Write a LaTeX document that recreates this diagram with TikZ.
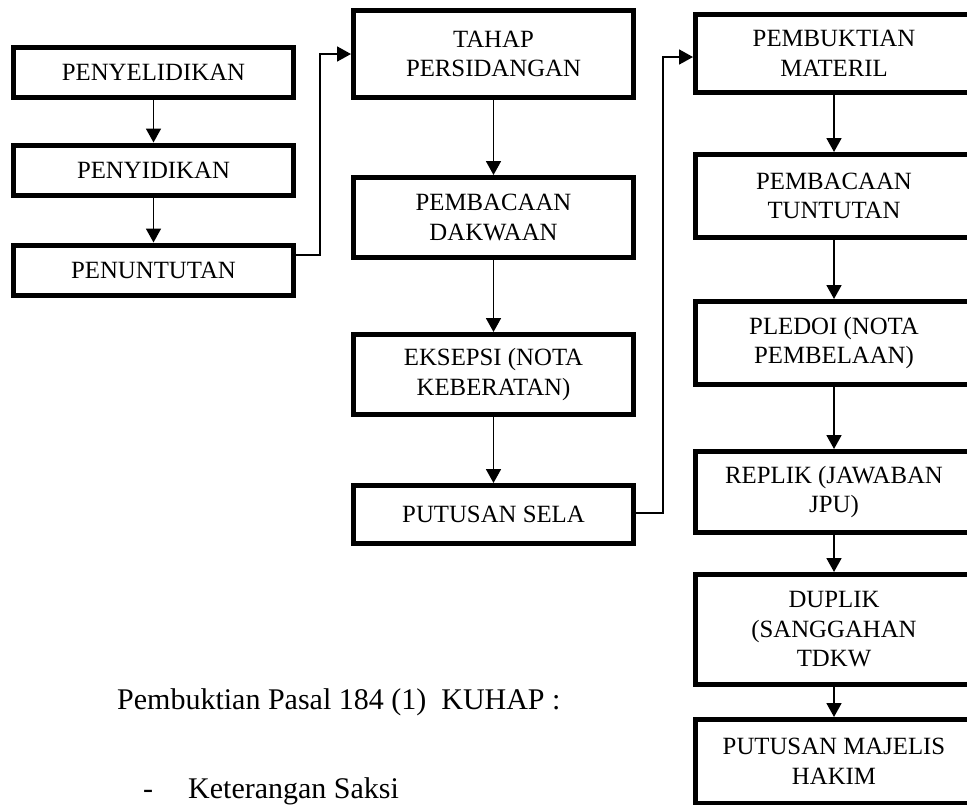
\documentclass[tikz,border=0pt]{standalone}
\usepackage{fontspec}
\setmainfont{Liberation Serif}
\usetikzlibrary{arrows.meta}
\begin{document}
\begin{tikzpicture}[x=1pt,y=-1pt,
  box/.style={draw=black,line width=5pt,rectangle,align=center,inner sep=0pt,
    font=\fontsize{24.8}{29.5}\selectfont},
  lbox/.style={box,minimum width=280pt,minimum height=50pt},
  mbox/.style={box,minimum width=280pt},
  rbox/.style={box,minimum width=277pt},
  conn/.style={line width=1.8pt,-{Triangle[length=14pt,width=15pt]}},
  txt/.style={font=\fontsize{30}{36}\selectfont,inner sep=0pt}]
\useasboundingbox (0,0) rectangle (967,804);
\clip (0,0) rectangle (967,804);
% left column
\node[lbox] (pyl) at (153.5,72) {PENYELIDIKAN};
\node[lbox] (pyd) at (153.5,170) {PENYIDIKAN};
\node[lbox] (pen) at (153.5,270) {PENUNTUTAN};
% middle column
\node[mbox,minimum height=87pt] (tahap) at (493.5,54) {TAHAP\\PERSIDANGAN};
\node[mbox,minimum height=80pt] (dakw) at (493.5,217.5) {PEMBACAAN\\DAKWAAN};
\node[mbox,minimum height=80pt] (eks) at (493.5,374.5) {EKSEPSI (NOTA\\KEBERATAN)};
\node[mbox,minimum height=58pt] (sela) at (493.5,514.5) {PUTUSAN SELA};
% right column
\node[rbox,minimum height=78pt] (mat) at (834,53.5) {PEMBUKTIAN\\MATERIL};
\node[rbox,minimum height=83pt] (tunt) at (834,196) {PEMBACAAN\\TUNTUTAN};
\node[rbox,minimum height=83pt] (pled) at (834,343) {PLEDOI (NOTA\\PEMBELAAN)};
\node[rbox,minimum height=81pt] (rep) at (834,492) {REPLIK (JAWABAN\\JPU)};
\node[rbox,minimum height=110pt] (dup) at (834,629.5) {DUPLIK\\(SANGGAHAN\\TDKW};
\node[rbox,minimum height=84pt] (put) at (834,761.5) {PUTUSAN MAJELIS\\HAKIM};
% text
\node[txt,anchor=base west] (pasal) at (117,709) {Pembuktian Pasal 184 (1)\ \ KUHAP :};
\node[txt,anchor=base west] (dash) at (143,798) {-};
\node[txt,anchor=base west] (saksi) at (188,798) {Keterangan Saksi};
% connectors
\draw[conn] (pyl) -- (pyd);
\draw[conn] (pyd) -- (pen);
\draw[conn] (tahap) -- (dakw);
\draw[conn] (dakw) -- (eks);
\draw[conn] (eks) -- (sela);
\draw[conn] (mat) -- (tunt);
\draw[conn] (tunt) -- (pled);
\draw[conn] (pled) -- (rep);
\draw[conn] (rep) -- (dup);
\draw[conn] (dup) -- (put);
\coordinate (j1) at (320,255);
\coordinate (j2) at (663,513);
\draw[conn] ([yshift=15pt]pen.east) -- (j1) |- (tahap.west);
\draw[conn] ([yshift=1.5pt]sela.east) -- (j2) |- ([yshift=-3.5pt]mat.west);
\end{tikzpicture}
\end{document}
